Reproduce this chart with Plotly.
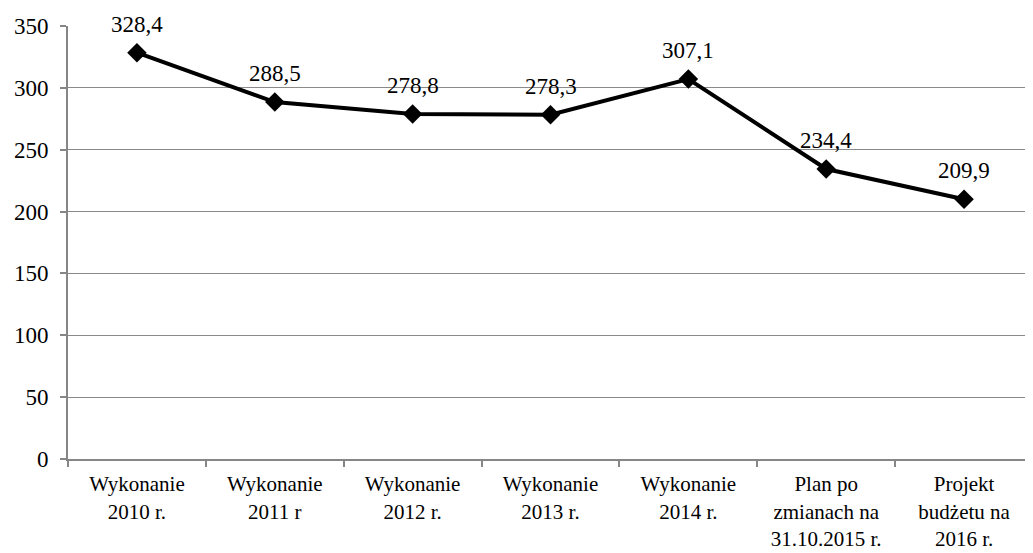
import plotly.graph_objects as go

categories = [
    "Wykonanie<br>2010 r.",
    "Wykonanie<br>2011 r",
    "Wykonanie<br>2012 r.",
    "Wykonanie<br>2013 r.",
    "Wykonanie<br>2014 r.",
    "Plan po<br>zmianach na<br>31.10.2015 r.",
    "Projekt<br>budżetu na<br>2016 r.",
]
values = [328.4, 288.5, 278.8, 278.3, 307.1, 234.4, 209.9]
value_labels = ["328,4", "288,5", "278,8", "278,3", "307,1", "234,4", "209,9"]
y_ticks = [0, 50, 100, 150, 200, 250, 300, 350]

FONT = "Liberation Serif"

fig = go.Figure(
    go.Scatter(
        x=categories,
        y=values,
        mode="lines+markers",
        line=dict(color="black", width=4),
        marker=dict(symbol="diamond", size=15, color="black"),
        cliponaxis=False,
    )
)

for cat, val, lab in zip(categories, values, value_labels):
    fig.add_annotation(
        x=cat, y=val, text=lab, showarrow=False,
        yanchor="bottom", yshift=14,
        font=dict(family=FONT, size=23, color="black"),
    )

# page body has an 8px margin: size the figure so it ends at the window edge
fig.update_layout(
    width=1025,
    height=545,
    margin=dict(l=60, r=0, t=18, b=94),
    plot_bgcolor="white",
    paper_bgcolor="white",
    showlegend=False,
    font=dict(family=FONT, size=22, color="black"),
)

fig.update_xaxes(
    type="category",
    range=[-0.5, 6.5],
    tickson="boundaries",
    ticks="outside",
    ticklen=6,
    tickcolor="#868686",
    tickwidth=1.5,
    showline=True,
    linecolor="#868686",
    linewidth=2,
    showgrid=False,
    automargin=False,
    ticklabelstandoff=5,
    tickfont=dict(family=FONT, size=21, color="black"),
)

fig.update_yaxes(
    range=[0, 350],
    tickvals=y_ticks,
    ticks="outside",
    ticklen=6,
    tickcolor="#868686",
    tickwidth=1.5,
    showline=True,
    linecolor="#868686",
    linewidth=2,
    showgrid=True,
    gridcolor="#8a8a8a",
    gridwidth=1,
    zeroline=False,
    automargin=False,
    ticklabelstandoff=7,
    tickfont=dict(family=FONT, size=23, color="black"),
)

fig.write_html("out.html")
